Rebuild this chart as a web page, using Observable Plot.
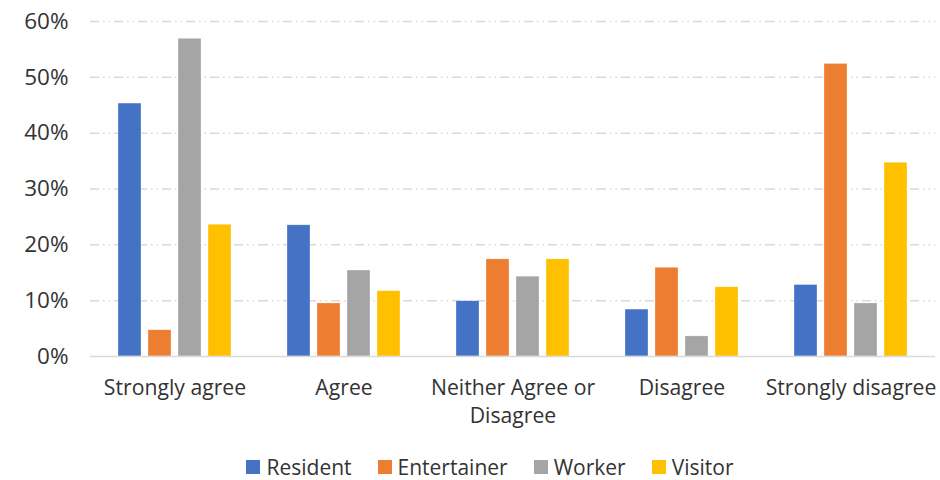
<!DOCTYPE html>
<html>
<head>
<meta charset="utf-8">
<script src="https://cdn.jsdelivr.net/npm/d3@7"></script>
<script src="https://cdn.jsdelivr.net/npm/@observablehq/plot@0.6"></script>
<style>
  html, body { margin: 0; padding: 0; background: #fff; }
  body { width: 940px; font-family: "Open Sans", sans-serif; }
  #legend { display: flex; justify-content: center; gap: 26px; font-size: 21px; color: #333; height: 30px; align-items: center; margin-left: 40px; }
  #legend .item { display: flex; align-items: center; gap: 6px; }
  #legend .sw { width: 14px; height: 14px; display: inline-block; }
</style>
</head>
<body>
<div id="chart"></div>
<div id="legend"></div>
<script>
const categories = ["Strongly agree", "Agree", "Neither Agree or Disagree", "Disagree", "Strongly disagree"];
const series = ["Resident", "Entertainer", "Worker", "Visitor"];
const colors = ["#4472C4", "#ED7D31", "#A5A5A5", "#FFC000"];
const resident    = [45.3, 23.5, 9.9, 8.4, 12.8];
const entertainer = [4.7, 9.5, 17.4, 15.9, 52.4];
const worker      = [56.9, 15.4, 14.3, 3.6, 9.5];
const visitor     = [23.6, 11.7, 17.4, 12.4, 34.7];
const yTicks = [0, 10, 20, 30, 40, 50, 60];

const valuesBySeries = [resident, entertainer, worker, visitor];
const data = [];
categories.forEach((c, i) => {
  series.forEach((s, j) => data.push({category: c, series: s, value: valuesBySeries[j][i]}));
});

const labelMap = {"Neither Agree or Disagree": "Neither Agree or\nDisagree"};

const chart = Plot.plot({
  width: 940,
  height: 452,
  marginLeft: 88,
  marginRight: 3,
  marginTop: 21,
  marginBottom: 96,
  style: {fontFamily: "Open Sans, sans-serif", color: "#333", background: "#fff"},
  fx: {domain: categories, padding: 0, axis: null},
  x: {domain: series, paddingInner: 0.226, paddingOuter: 0.848, axis: null},
  y: {domain: [0, 60], axis: null},
  color: {domain: series, range: colors},
  marks: [
    Plot.gridY(yTicks.filter(d => d > 0), {stroke: "#d9d9d9", strokeOpacity: 1, strokeWidth: 1.5, strokeDasharray: "9,4,1.5,4,1.5,4"}),
    Plot.barY(data, {fx: "category", x: "series", y: "value", fill: "series", stroke: "#fff", strokeWidth: 0.6, strokeOpacity: 0.5}),
    Plot.ruleY([0], {stroke: "#d9d9d9", strokeWidth: 1.5}),
    Plot.axisY({ticks: yTicks, tickFormat: d => d + "%", tickSize: 0, tickPadding: 22, fontSize: 22.5, anchor: "left", label: null}),
    Plot.axisFx({anchor: "bottom", tickSize: 0, tickPadding: 19, fontSize: 21.2, label: null, tickFormat: d => labelMap[d] || d, lineHeight: 1.32})
  ]
});
document.getElementById("chart").appendChild(chart);

const legend = document.getElementById("legend");
series.forEach((s, i) => {
  const item = document.createElement("span");
  item.className = "item";
  const sw = document.createElement("span");
  sw.className = "sw";
  sw.style.background = colors[i];
  const t = document.createElement("span");
  t.textContent = s;
  item.appendChild(sw);
  item.appendChild(t);
  legend.appendChild(item);
});
</script>
</body>
</html>
